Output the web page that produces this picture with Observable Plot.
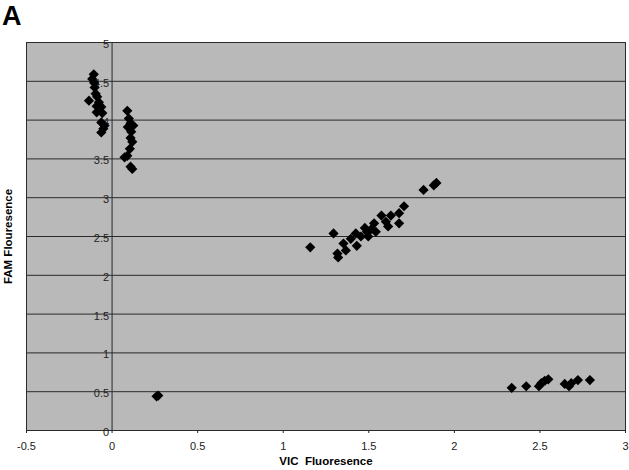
<!DOCTYPE html>
<html>
<head>
<meta charset="utf-8">
<script src="https://cdn.jsdelivr.net/npm/d3@7"></script>
<script src="https://cdn.jsdelivr.net/npm/@observablehq/plot@0.6"></script>
<style>
  html, body { margin: 0; padding: 0; background: #fff; }
  #wrap { position: relative; width: 629px; height: 470px; font-family: "Liberation Sans", Arial, sans-serif; }
  #panel { position: absolute; left: 2px; top: 3px; font-size: 27px; line-height: 27px; font-weight: bold; color: #000; }
</style>
</head>
<body>
<div id="wrap"><div id="panel">A</div></div>
<script>
// VIC fluorescence (x) and FAM fluorescence (y)
const vic = [
  -0.107, -0.116, -0.105, -0.102, -0.096, -0.135, -0.087, -0.077, -0.090, -0.063, -0.090, -0.057, -0.063, -0.044, -0.051, -0.063,
  0.089, 0.098, 0.108, 0.124, 0.092, 0.112, 0.108, 0.118, 0.104, 0.089, 0.073, 0.108, 0.118,
  0.260, 0.270,
  1.158, 1.294, 1.317, 1.321, 1.352, 1.366, 1.395, 1.424, 1.430, 1.454, 1.477, 1.489, 1.497, 1.512, 1.531, 1.541, 1.574, 1.600, 1.613, 1.629, 1.677, 1.677, 1.706, 1.820, 1.880, 1.895,
  2.335, 2.420, 2.494, 2.508, 2.528, 2.549, 2.645, 2.670, 2.683, 2.722, 2.792
];
const fam = [
  4.59, 4.53, 4.48, 4.42, 4.34, 4.25, 4.30, 4.23, 4.18, 4.17, 4.10, 4.09, 3.97, 3.93, 3.89, 3.84,
  4.12, 4.02, 3.96, 3.93, 3.91, 3.85, 3.77, 3.72, 3.63, 3.54, 3.52, 3.40, 3.37,
  0.44, 0.45,
  2.36, 2.54, 2.28, 2.23, 2.41, 2.32, 2.47, 2.54, 2.38, 2.50, 2.61, 2.56, 2.50, 2.59, 2.67, 2.56, 2.77, 2.69, 2.63, 2.77, 2.80, 2.67, 2.89, 3.10, 3.16, 3.19,
  0.55, 0.57, 0.57, 0.61, 0.64, 0.66, 0.60, 0.57, 0.61, 0.65, 0.65
];
const xTicks = [-0.5, 0, 0.5, 1, 1.5, 2, 2.5, 3];
const yTicks = [0, 0.5, 1, 1.5, 2, 2.5, 3, 3.5, 4, 4.5, 5];
const xTitle = "VIC  Fluoresence";
const yTitle = "FAM Flouresence";

const points = vic.map((v, i) => ({vic: v, fam: fam[i]}));

const chart = Plot.plot({
  width: 629,
  height: 470,
  marginLeft: 26,
  marginRight: 4,
  marginTop: 42,
  marginBottom: 40,
  style: {fontFamily: "'Liberation Sans', Arial, sans-serif", fontSize: "11px", background: "transparent", color: "#111"},
  x: {domain: [-0.5, 3]},
  y: {domain: [0, 5]},
  marks: [
    Plot.frame({fill: "#b9b9b9", stroke: "none"}),
    Plot.ruleY(yTicks, {stroke: "#2a2a2a", strokeWidth: 1}),
    Plot.ruleX([0], {stroke: "#2a2a2a", strokeWidth: 1}),
    Plot.frame({stroke: "#2a2a2a", strokeWidth: 1}),
    Plot.text(yTicks, {x: 0, y: d => d, text: d => String(d), textAnchor: "end", dx: -3, dy: 2, fill: "#222", fontSize: 11}),
    Plot.axisX(xTicks, {tickSize: 3, tickPadding: 9, tickFormat: d => String(d), label: null, stroke: "#222", fill: "#222", fontSize: 11}),
    Plot.axisY({ticks: [], label: null, tickSize: 0}),
    Plot.text([xTitle], {frameAnchor: "bottom", dy: 34, fontWeight: "bold", fontSize: 11.5, fill: "#000"}),
    Plot.text([yTitle], {frameAnchor: "left", textAnchor: "middle", dx: -18, rotate: -90, fontWeight: "bold", fontSize: 11.5, fill: "#000"}),
    Plot.dot(points, {x: "vic", y: "fam", symbol: "diamond2", r: 4.6, fill: "#000", stroke: "none"})
  ]
});
document.getElementById("wrap").appendChild(chart);
</script>
</body>
</html>
